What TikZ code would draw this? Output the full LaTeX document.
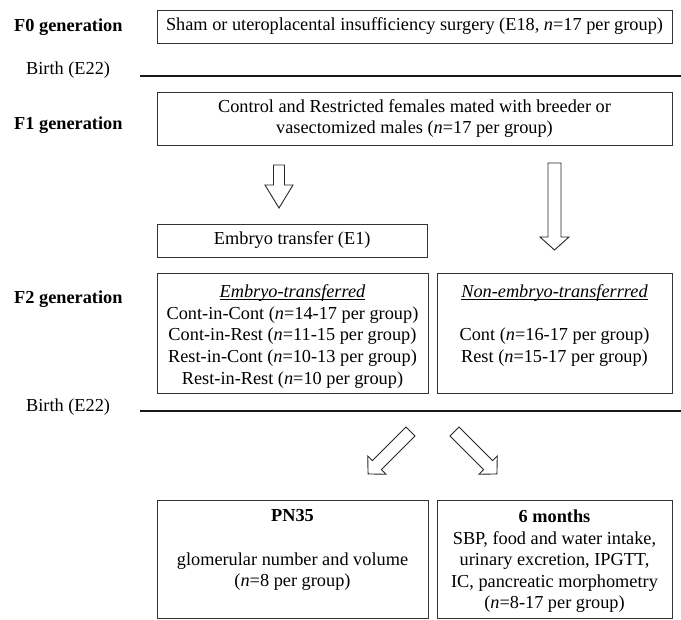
\documentclass[tikz,border=0pt]{standalone}
\usepackage{fontspec}
\setmainfont{Liberation Serif}
\newcommand\myul[1]{\setbox0\hbox{#1}\rlap{\rule[-2.6pt]{\wd0}{0.8pt}}\box0}
\begin{document}
\begin{tikzpicture}[x=1pt,y=-1pt,
  txt/.style={font=\fontsize{18.3}{21.6}\selectfont},
  boldtxt/.style={font=\fontsize{18.3}{21.6}\selectfont\bfseries},
  box/.style={txt, draw=black!80, line width=0.9pt, inner sep=0pt, align=center},
  lab/.style={anchor=west, inner sep=0pt},
  sepline/.style={line width=2pt, draw=black!90},
  arrowline/.style={draw=black!85, line width=0.9pt, line join=miter, fill=white},
  pics/harrow/.style n args={4}{code={%
    \draw[arrowline] (0,-#2) -- (#1-#4,-#2) -- (#1-#4,-#3) -- (#1,0) -- (#1-#4,#3) -- (#1-#4,#2) -- (0,#2) -- cycle;}}
]
\useasboundingbox (0,0) rectangle (681,620);

% left labels
\node[lab, boldtxt] (g0) at (14,27) {F0 generation};
\node[lab, txt] (b1) at (26,70) {Birth (E22)};
\node[lab, boldtxt] (g1) at (14,125) {F1 generation};
\node[lab, boldtxt] (g2) at (14,299) {F2 generation};
\node[lab, txt] (b2) at (26,407) {Birth (E22)};

% separators
\coordinate (s1a) at (140,76);
\coordinate (s1b) at (681,76);
\coordinate (s2a) at (140,411);
\coordinate (s2b) at (681,411);
\draw[sepline] (s1a) -- (s1b);
\draw[sepline] (s2a) -- (s2b);

% boxes
\node[box, minimum width=515, minimum height=33] (f0) at (414.5,26.5)
  {Sham or uteroplacental insufficiency surgery (E18, \textit{n}=17 per group)};
\node[box, minimum width=515, minimum height=53] (f1) at (414.5,118.5)
  {Control and Restricted females mated with breeder or\\vasectomized males (\textit{n}=17 per group)};
\node[box, minimum width=270.5, minimum height=33] (et) at (292.25,240.5)
  {Embryo transfer (E1)};
\node[box, minimum width=271, minimum height=120] (etb) at (292.5,333) {};
\node[txt, align=center, inner sep=0pt, anchor=north] (etbt) at ([yshift=-12]etb.north)
  {\myul{\textit{Embryo-transferred}}\\
   Cont-in-Cont (\textit{n}=14-17 per group)\\
   Cont-in-Rest (\textit{n}=11-15 per group)\\
   Rest-in-Cont (\textit{n}=10-13 per group)\\
   Rest-in-Rest (\textit{n}=10 per group)};
\node[box, minimum width=235, minimum height=120] (netb) at (554.5,333) {};
\node[txt, align=center, inner sep=0pt, anchor=north] (nett) at ([yshift=-12]netb.north)
  {\myul{\textit{Non-embryo-transferrred}}\\
   \mbox{}\\
   Cont (\textit{n}=16-17 per group)\\
   Rest (\textit{n}=15-17 per group)};
\node[box, minimum width=271, minimum height=118] (pn) at (292.5,559) {};
\node[txt, align=center, inner sep=0pt, anchor=north] (pnt) at ([yshift=-10]pn.north)
  {\textbf{PN35}\\
   \mbox{}\\
   glomerular number and volume\\
   (\textit{n}=8 per group)};
\node[box, minimum width=235, minimum height=118] (sm) at (554.5,559) {};
\node[txt, align=center, inner sep=0pt, anchor=north] (smt) at ([yshift=-10]sm.north)
  {\textbf{6 months}\\
   SBP, food and water intake,\\
   urinary excretion, IPGTT,\\
   IC, pancreatic morphometry\\
   (\textit{n}=8-17 per group)};

% hollow arrows
\pic[rotate=-90] at (279,165) {harrow={43}{5.5}{14}{23}};
\pic[rotate=-90] at (554.5,163) {harrow={87}{6.5}{14.5}{13}};
\pic[rotate=-135] at (410.5,431.5) {harrow={60}{6.4}{13}{12.5}};
\pic[rotate=-45] at (454.5,431.5) {harrow={60}{6.4}{13}{12.5}};
\end{tikzpicture}
\end{document}
